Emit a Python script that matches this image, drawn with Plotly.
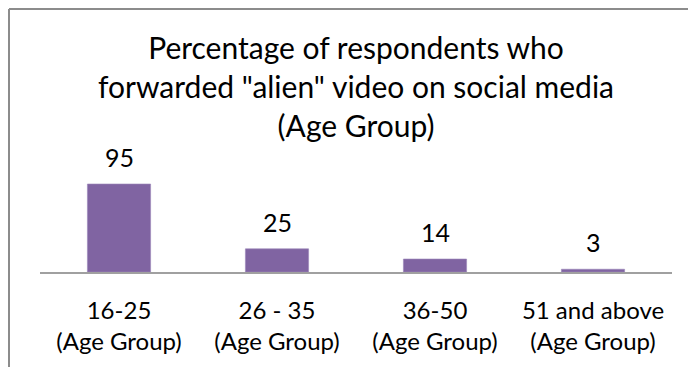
import plotly.graph_objects as go

# Chart data
age_groups = ["16-25", "26 - 35", "36-50", "51 and above"]
tick_labels = [g + "<br>(Age Group)" for g in age_groups]
percentages = [95, 25, 14, 3]

title_text = ('Percentage of respondents who<br>forwarded "alien" video on social media'
              '<br>(Age Group)')

W, H = 688, 367
L, R, T, B = 40, 16, 150, 95
plot_w = W - L - R
plot_h = H - T - B

FONT = "Lato"
BAR_COLOR = "#8064A2"

fig = go.Figure()
fig.add_trace(go.Bar(
    x=list(range(len(age_groups))),
    y=percentages,
    width=0.4,
    marker=dict(color=BAR_COLOR, line=dict(color="#9B86B8", width=0.6)),
    hoverinfo="skip",
))

# value labels above each bar
for i, v in enumerate(percentages):
    fig.add_annotation(x=i, y=v, text=str(v), showarrow=False,
                       yanchor="bottom", yshift=10,
                       font=dict(family=FONT, size=25, color="#000000"))

# chart frame (left and top edges visible)
def px_to_paper_x(px):
    return (px - L) / plot_w

def px_to_paper_y(py):
    return (H - B - py) / plot_h

fig.add_shape(type="line", xref="paper", yref="paper",
              x0=px_to_paper_x(9), x1=px_to_paper_x(9),
              y0=px_to_paper_y(9), y1=px_to_paper_y(H + 5),
              line=dict(color="#8C8C8C", width=2))
fig.add_shape(type="line", xref="paper", yref="paper",
              x0=px_to_paper_x(9), x1=px_to_paper_x(W + 5),
              y0=px_to_paper_y(9), y1=px_to_paper_y(9),
              line=dict(color="#8C8C8C", width=2))

fig.update_layout(
    width=W, height=H,
    margin=dict(l=L, r=R, t=T, b=B),
    paper_bgcolor="#FFFFFF",
    plot_bgcolor="#FFFFFF",
    showlegend=False,
    title=dict(text=title_text, x=(L + plot_w / 2) / W, xanchor="center",
               y=1 - 59 / H, yanchor="top",
               font=dict(family=FONT, size=30, color="#000000")),
    xaxis=dict(
        range=[-0.5, len(age_groups) - 0.5],
        tickvals=list(range(len(age_groups))),
        ticktext=tick_labels,
        ticks="outside", ticklen=16, tickcolor="rgba(0,0,0,0)",
        showline=True, linecolor="#A0A0A0", linewidth=2,
        showgrid=False, zeroline=False,
        tickfont=dict(family=FONT, size=24, color="#000000"),
    ),
    yaxis=dict(
        range=[0, plot_h / (88 / 95)],
        visible=False, showgrid=False, zeroline=False,
    ),
)

fig.write_html("out.html")
